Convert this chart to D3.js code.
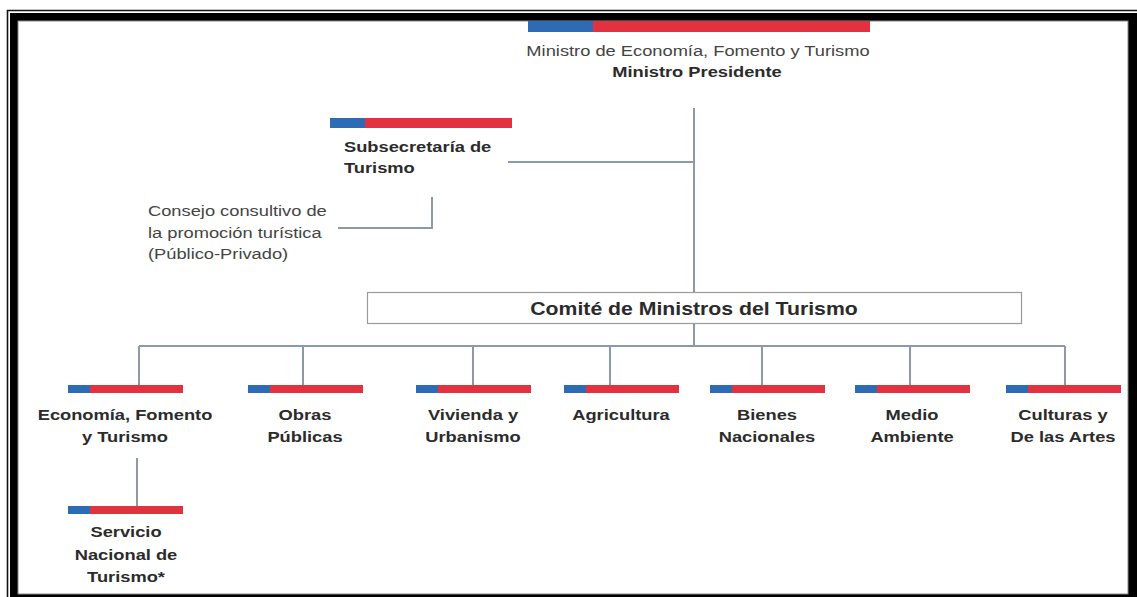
<!DOCTYPE html>
<html>
<head>
<meta charset="utf-8">
<script src="https://cdn.jsdelivr.net/npm/d3@7"></script>
<style>
  body { margin: 0; background: #fff; }
  text { font-family: "Liberation Sans", Arial, Helvetica, sans-serif; fill: #2b2b2b; }
  .bold { font-weight: bold; }
  .link { stroke: #8d99a6; stroke-width: 2; fill: none; }
</style>
</head>
<body>
<div id="chart"></div>
<script>
// textes de l'organigramme
const ministro = ["Ministro de Economía, Fomento y Turismo", "Ministro Presidente"];
const subsecretaria = ["Subsecretaría de", "Turismo"];
const consejo = ["Consejo consultivo de", "la promoción turística", "(Público-Privado)"];
const comite = "Comité de Ministros del Turismo";
const ministerios = ["Economía", "Obras", "Vivienda", "Agricultura", "Bienes", "Medio", "Culturas"];
const etiquetas = [
  ["Economía, Fomento", "y Turismo"],
  ["Obras", "Públicas"],
  ["Vivienda y", "Urbanismo"],
  ["Agricultura"],
  ["Bienes", "Nacionales"],
  ["Medio", "Ambiente"],
  ["Culturas y", "De las Artes"]
];
const servicio = ["Servicio", "Nacional de", "Turismo*"];

// mise en page (positions des ministères, pas des données)
const centreX = d3.scaleOrdinal().domain(ministerios).range([125, 305, 473, 621, 767, 912, 1063]);
const lienX = d3.scaleOrdinal().domain(ministerios).range([139, 303, 473, 610, 762, 910, 1065]);

const width = 1137, height = 597;
const stretch = 1.18;   // le texte de l'image est étiré horizontalement
const blue = "#2d6cb4", red = "#e3323f";

const svg = d3.select("#chart").append("svg")
    .attr("width", width)
    .attr("height", height);

// cadre
svg.append("rect").attr("x", 10).attr("y", 13).attr("width", width).attr("height", height).attr("fill", "#000");
svg.append("rect").attr("x", 18).attr("y", 21).attr("width", 1110).attr("height", 573).attr("fill", "#fff")
    .attr("stroke", "#888").attr("stroke-width", 1);
svg.append("path").attr("d", "M7.5," + height + "V10.5H" + width)
    .attr("fill", "none").attr("stroke", "#111").attr("stroke-width", 1.6);

function label(lines, x, y0, dy, size, cls, anchor) {
  lines.forEach((t, i) => {
    svg.append("text")
        .attr("class", cls)
        .attr("transform", "translate(" + x + "," + (y0 + i * dy) + ") scale(" + stretch + ",1)")
        .attr("text-anchor", anchor || "middle")
        .style("font-size", size + "px")
        .text(t);
  });
}

function flag(x, y, w, h) {
  const b = Math.round(w * 0.19);
  svg.append("rect").attr("x", x).attr("y", y).attr("width", b).attr("height", h).attr("fill", blue);
  svg.append("rect").attr("x", x + b).attr("y", y).attr("width", w - b).attr("height", h).attr("fill", red);
}

function link(pts) {
  svg.append("path").attr("class", "link").attr("d", d3.line()(pts));
}

// liens
link([[694, 108], [694, 292]]);
link([[508, 162], [694, 162]]);
link([[432, 197], [432, 228], [338, 228]]);
link([[694, 324], [694, 346]]);
link([[lienX(ministerios[0]), 346], [lienX(ministerios[ministerios.length - 1]), 346]]);
ministerios.forEach(m => link([[lienX(m), 346], [lienX(m), 386]]));
link([[137, 458], [137, 507]]);

// ministro
flag(528, 21, 342, 11);
svg.append("text")
    .attr("transform", "translate(698,56) scale(" + stretch + ",1)")
    .attr("text-anchor", "middle")
    .style("font-size", "15.5px")
    .style("fill", "#444")
    .text(ministro[0]);
label([ministro[1]], 697, 77, 0, 15.5, "bold");

// subsecretaría
flag(330, 118, 182, 10);
label(subsecretaria, 344, 152, 21, 15.5, "bold", "start");

// consejo
consejo.forEach((t, i) => {
  svg.append("text")
      .attr("transform", "translate(148," + (216 + i * 21.5) + ") scale(" + stretch + ",1)")
      .style("font-size", "15.5px")
      .style("fill", "#444")
      .text(t);
});

// comité
svg.append("rect").attr("x", 367.5).attr("y", 292.5).attr("width", 654).attr("height", 31)
    .attr("fill", "#fff").attr("stroke", "#9a9a9a").attr("stroke-width", 1.2);
label([comite], 694, 315, 0, 18, "bold");

// ministerios
ministerios.forEach((m, i) => {
  const cx = centreX(m);
  flag(cx - 57, 385, 115, 8);
  label(etiquetas[i], cx, 420, 22, 15.5, "bold");
});

// servicio
flag(68, 506, 115, 8);
label(servicio, 126, 537, 22.5, 15.5, "bold");
</script>
</body>
</html>
